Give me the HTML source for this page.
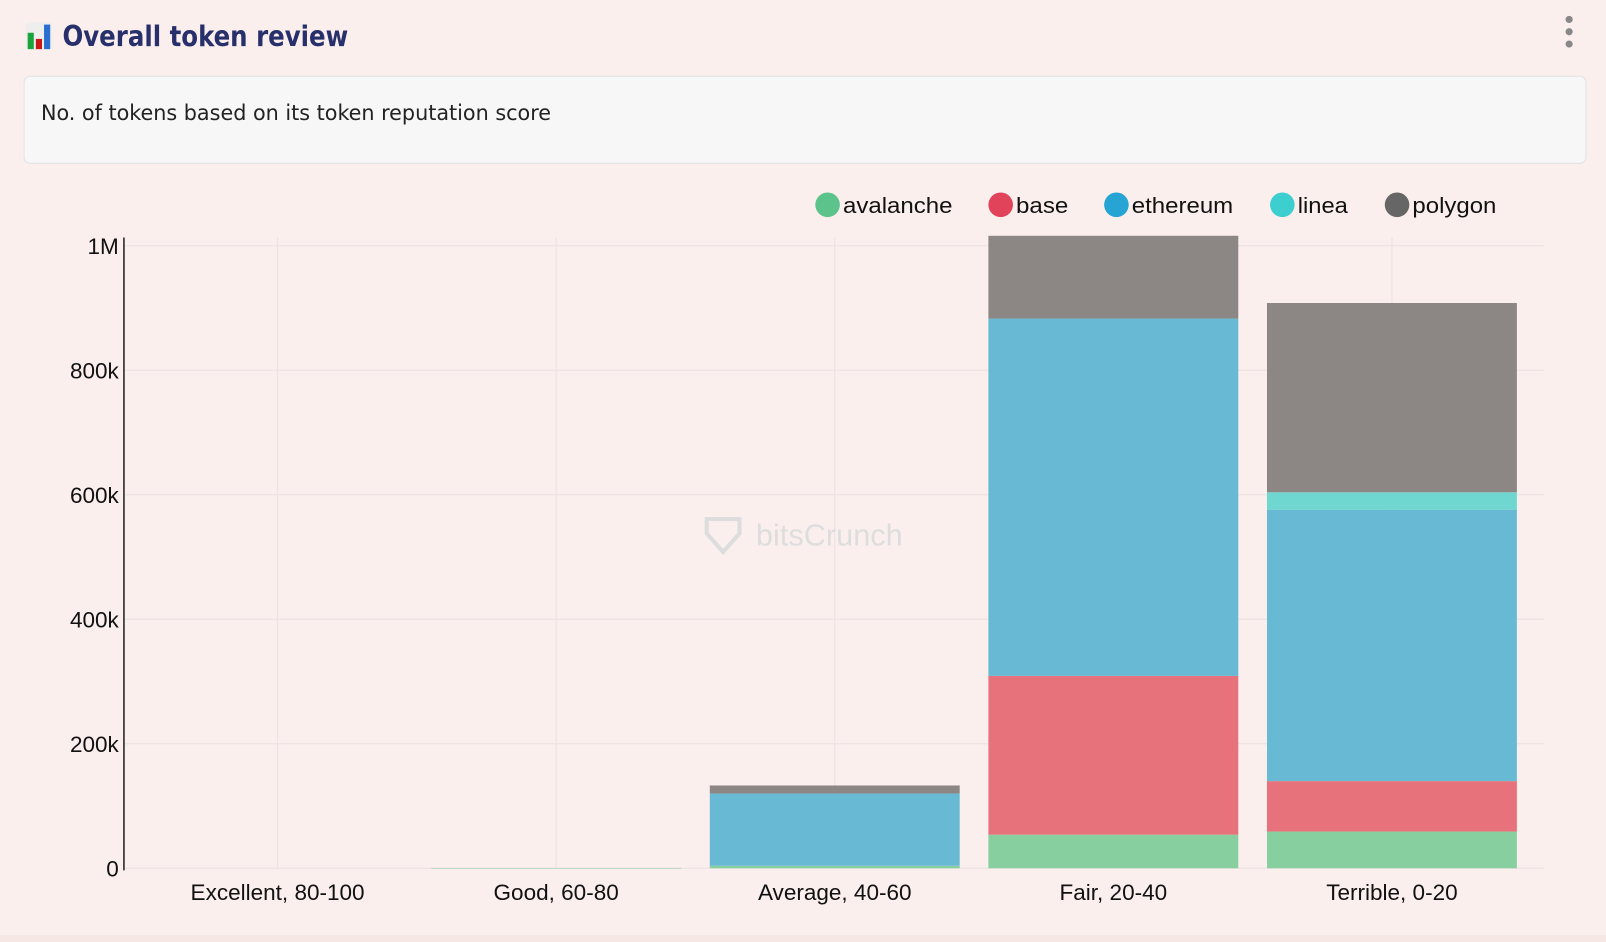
<!DOCTYPE html>
<html><head><meta charset="utf-8"><style>
html,body{margin:0;padding:0;background:#fbefee;}
svg{display:block;}
text{font-family:"Liberation Sans",sans-serif;}
</style></head><body>
<svg id="chart" width="1606" height="942" viewBox="0 0 1568 920" preserveAspectRatio="none" xmlns="http://www.w3.org/2000/svg">
<rect x="0" y="0" width="1568" height="920" fill="#fbefee"/>
<rect x="0" y="913" width="1568" height="7" fill="#f6e6e4"/>
<g>
<rect x="25" y="22" width="26" height="26" fill="#eee" rx="2"/>
<rect x="27" y="32" width="6" height="16" fill="#1aa33a"/>
<rect x="35" y="38" width="6" height="10" fill="#c81818"/>
<rect x="43" y="24" width="6" height="24" fill="#2a6fd0"/>
</g>
<text x="61" y="45" font-size="28" font-weight="bold" fill="#27306b" textLength="279" lengthAdjust="spacingAndGlyphs" style="font-family:'DejaVu Sans Condensed','Liberation Sans',sans-serif">Overall token review</text>
<g fill="#888">
<circle cx="1532" cy="19" r="3.5"/><circle cx="1532" cy="31" r="3.5"/><circle cx="1532" cy="43" r="3.5"/>
</g>
<rect x="23.5" y="74.5" width="1525" height="85" rx="6" fill="#f7f7f7" stroke="#e2e2e2"/>
<text x="40" y="117" font-size="21" fill="#222" textLength="498" lengthAdjust="spacingAndGlyphs" style="font-family:'DejaVu Sans Condensed','Liberation Sans',sans-serif">No. of tokens based on its token reputation score</text>
<g id="grid"></g>
<text x="738" y="533" font-size="30" fill="#ddd">bitsCrunch</text>
<path d="M690 507 h32 v14 l-16 18 l-16 -18 z" fill="none" stroke="#ddd" stroke-width="4"/>
<g id="bars"></g>
<g id="axes"></g>
<g id="legend"></g>
</svg>
<script>
const categories=["Excellent, 80-100","Good, 60-80","Average, 40-60","Fair, 20-40","Terrible, 0-20"];
const seriesNames=["avalanche","base","ethereum","linea","polygon"];
const avalanche=[0,500,4000,54000,59000];
const base=[0,0,0,255000,81000];
const ethereum=[0,0,116000,574000,436000];
const linea=[0,0,0,0,28000];
const polygon=[0,0,13000,133000,304000];
const yTicks=[0,200000,400000,600000,800000,1000000];
const yTickLabels=["0","200k","400k","600k","800k","1M"];

const fills=["#88cfa0","#e8727c","#68bad4","#6fd6d0","#8c8785"];
const legendColors=["#5cc48a","#e0435a","#26a4d4","#3dcfcf","#666666"];
const NS="http://www.w3.org/2000/svg";
const X0=121,X1=1508,Y0=848,Y1M=240;
function xC(i){return 271+i*272;}
function y(v){return Y0-(v/1000000)*(Y0-Y1M);}
function mk(tag,attrs,parent){const e=document.createElementNS(NS,tag);for(const k in attrs)e.setAttribute(k,attrs[k]);parent.appendChild(e);return e;}
const grid=document.getElementById('grid'),bars=document.getElementById('bars'),axes=document.getElementById('axes'),legend=document.getElementById('legend');
yTicks.forEach((t,i)=>{
  const l=mk('line',{x1:X0,x2:X1,y1:y(t),y2:y(t),stroke:'#ece3e2','stroke-width':1.2},grid);
  
  
  const tx=mk('text',{x:116,y:y(t)+8,'font-size':22,'text-anchor':'end',fill:'#111'},axes);
  tx.textContent=yTickLabels[i];
  
  
});
categories.forEach((c,i)=>{
  const l=mk('line',{x1:xC(i),x2:xC(i),y1:232,y2:Y0,stroke:'#ece3e2','stroke-width':1.2},grid);
  
  
  const tx=mk('text',{x:xC(i),y:879,'font-size':22,'text-anchor':'middle',fill:'#111'},axes);
  tx.textContent=c;
  
  
});
const data=[avalanche,base,ethereum,linea,polygon];
categories.forEach((c,i)=>{
  let cum=0;
  data.forEach((s,j)=>{
    const v=s[i]; if(v<=0)return;
    const top=y(cum+v),bot=y(cum);
    const r=mk('rect',{x:xC(i)-122,width:244,y:top,height:Math.max(bot-top,0.5),fill:fills[j]},bars);
    
    
    cum+=v;
  });
});
const ax=mk('line',{x1:X0,x2:X0,y1:232,y2:850,stroke:'#222','stroke-width':1.5},axes);


const lx=[808,977,1090,1252,1364];
const lw=[107,51,99,49,82];
seriesNames.forEach((n,j)=>{
  const g=mk('g',{},legend);
  
  
  mk('circle',{cx:lx[j],cy:200,r:12,fill:legendColors[j]},g);
  const t=mk('text',{x:lx[j]+15,y:208,'font-size':22,fill:'#111',textLength:lw[j],lengthAdjust:'spacingAndGlyphs'},g);
  t.textContent=n;
});
</script>
</body></html>
